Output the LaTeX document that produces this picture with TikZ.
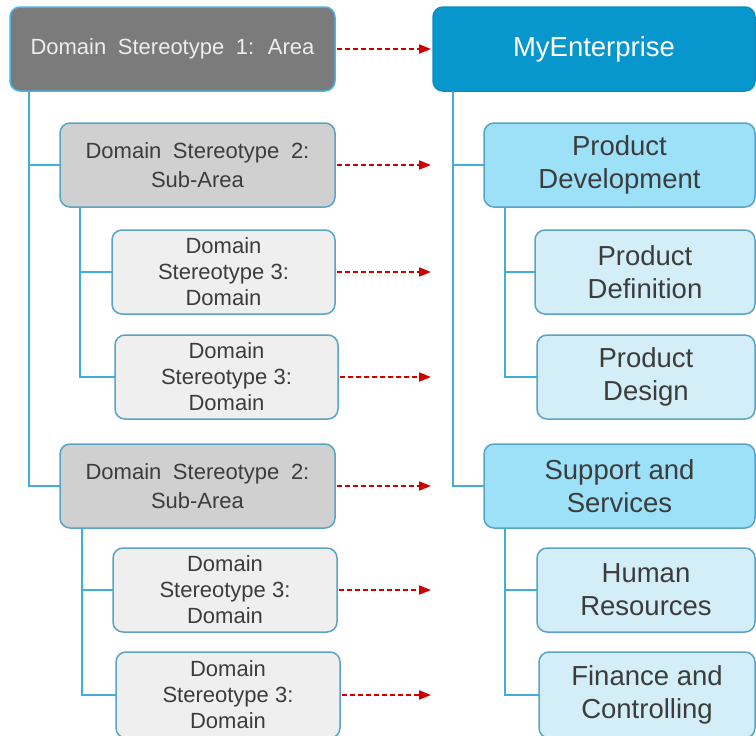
\documentclass[tikz,border=0pt]{standalone}
\usepackage{fontspec}
\setmainfont{Liberation Sans}
\newfontfamily\widefont[WordSpace=1.9]{Liberation Sans}
\usetikzlibrary{arrows.meta}
\definecolor{areafill}{HTML}{7B7B7B}
\definecolor{subfill}{HTML}{D0D0D0}
\definecolor{domfill}{HTML}{EFEFEF}
\definecolor{entfill}{HTML}{0897CC}
\definecolor{pdfill}{HTML}{9DE1F8}
\definecolor{pfill}{HTML}{D4EEF8}
\definecolor{boxline}{HTML}{5AA3C4}
\definecolor{arealine}{HTML}{4BB3E2}
\definecolor{entline}{HTML}{0A8DC0}
\definecolor{treeblue}{HTML}{3FAEDF}
\definecolor{linkred}{HTML}{CC0000}
\definecolor{darktext}{HTML}{3C3C3C}
\begin{document}
\begin{tikzpicture}[x=1pt,y=-1pt,
  basebox/.style={draw=boxline, line width=1.5pt, rounded corners=10pt, inner sep=0pt, outer sep=0pt, align=center, text=darktext},
  areabox/.style={basebox, draw=arealine, fill=areafill, text=white!93!black, font=\fontsize{22}{29}\selectfont\widefont},
  subbox/.style={basebox, fill=subfill, font=\fontsize{22}{29}\selectfont\widefont},
  dombox/.style={basebox, fill=domfill, font=\fontsize{22}{26}\selectfont},
  entbox/.style={basebox, draw=entline, fill=entfill, text=white, font=\fontsize{27.5}{33}\selectfont},
  pdbox/.style={basebox, fill=pdfill, font=\fontsize{27.5}{33}\selectfont},
  pbox/.style={basebox, fill=pfill, font=\fontsize{27.5}{33}\selectfont},
  tree/.style={draw=treeblue, line width=1.8pt},
  link/.style={draw=linkred, line width=1.8pt, dash pattern=on 5pt off 3pt, shorten <=2pt, -{Triangle[length=12pt,width=9pt]}}
]
\useasboundingbox (0,0) rectangle (756,736);
\clip (0,0) rectangle (756,736);
\fill[white] (0,0) rectangle (756,736);

% left column
\node[areabox, minimum width=325pt, minimum height=84pt] (b1) at (172.5,49) {Domain Stereotype 1: Area};
\node[subbox, minimum width=275pt, minimum height=84pt] (b2a) at (197.5,165) {Domain Stereotype 2:\\Sub-Area};
\node[dombox, minimum width=223pt, minimum height=84pt] (b3a) at (223.5,272) {Domain\\Stereotype 3:\\Domain};
\node[dombox, minimum width=223pt, minimum height=84pt] (b3b) at (226.5,377) {Domain\\Stereotype 3:\\Domain};
\node[subbox, minimum width=275pt, minimum height=84pt] (b2b) at (197.5,486) {Domain Stereotype 2:\\Sub-Area};
\node[dombox, minimum width=224pt, minimum height=84pt] (b3c) at (225,590) {Domain\\Stereotype 3:\\Domain};
\node[dombox, minimum width=224pt, minimum height=86pt] (b3d) at (228,695) {Domain\\Stereotype 3:\\Domain};

% right column
\node[entbox, minimum width=322pt, minimum height=84pt] (r0) at (594,49) {MyEnterprise};
\node[pdbox, minimum width=271pt, minimum height=84pt] (r1) at (619.5,165) {Product\\Development};
\node[pbox, minimum width=220pt, minimum height=84pt] (r2) at (645,272) {Product\\Definition};
\node[pbox, minimum width=218pt, minimum height=84pt] (r3) at (646,377) {Product\\Design};
\node[pdbox, minimum width=271pt, minimum height=84pt] (r4) at (619.5,486) {Support and\\Services};
\node[pbox, minimum width=218pt, minimum height=84pt] (r5) at (646,590) {Human\\Resources};
\node[pbox, minimum width=216pt, minimum height=86pt] (r6) at (647,695) {Finance and\\Controlling};

% tree lines left
\draw[tree] ([xshift=19pt]b1.south west) |- (b2a.west);
\draw[tree] ([xshift=19pt]b1.south west) |- (b2b.west);
\draw[tree] ([xshift=20pt]b2a.south west) |- (b3a.west);
\draw[tree] ([xshift=20pt]b2a.south west) |- (b3b.west);
\draw[tree] ([xshift=22pt]b2b.south west) |- (b3c.west);
\draw[tree] ([xshift=22pt]b2b.south west) |- (b3d.west);

% tree lines right
\draw[tree] ([xshift=20pt]r0.south west) |- (r1.west);
\draw[tree] ([xshift=20pt]r0.south west) |- (r4.west);
\draw[tree] ([xshift=21pt]r1.south west) |- (r2.west);
\draw[tree] ([xshift=21pt]r1.south west) |- (r3.west);
\draw[tree] ([xshift=21pt]r4.south west) |- (r5.west);
\draw[tree] ([xshift=21pt]r4.south west) |- (r6.west);

% mapping arrows
\coordinate (tipx) at (431,0);
\foreach \n in {b1,b2a,b3a,b3b,b2b,b3c,b3d}{
  \draw[link] (\n.east) -- (\n.east -| tipx);
}
\end{tikzpicture}
\end{document}
